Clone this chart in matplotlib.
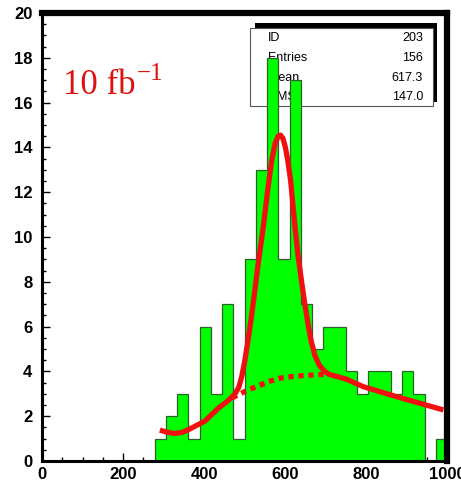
import numpy as np
import matplotlib
matplotlib.use("Agg")
import matplotlib.pyplot as plt
from matplotlib.patches import Rectangle

# Histogram: 36 bins from 0 to 1000, filled bins start at bin 10
bin_lo, bin_hi, n_bins = 0.0, 1000.0, 36
first_bin = 10
counts = [1, 2, 3, 1, 6, 3, 7, 1, 9, 13, 18, 9, 17, 7, 5, 6, 6, 4, 3, 4, 4, 3, 4, 3, 0, 1]

# Fit: signal + background (solid) and background alone under the peak (dotted)
fit_x = [291, 310, 326, 345, 365, 402, 435, 460, 476, 486, 493, 500, 508, 516, 524, 533, 546,
         556, 567, 576, 583, 589, 595, 601, 607, 614, 625, 632, 641, 649, 658, 664, 674, 684,
         695, 707, 752, 793, 876, 991]
fit_y = [1.38, 1.28, 1.23, 1.27, 1.43, 1.78, 2.35, 2.70, 2.98, 3.3, 3.75, 4.4, 5.3, 6.3, 7.4, 8.7, 10.4,
         11.9, 13.4, 14.2, 14.5, 14.55, 14.4, 14.0, 13.4, 12.5, 10.4, 9.2, 8.0, 7.0, 6.0, 5.4, 4.7, 4.3,
         4.05, 3.88, 3.65, 3.32, 2.87, 2.28]
bkg_x = [470, 489, 510, 534, 560, 588, 620, 650, 680, 707]
bkg_y = [2.82, 3.00, 3.18, 3.35, 3.55, 3.70, 3.78, 3.82, 3.85, 3.88]

x_ticks = [0, 200, 400, 600, 800, 1000]
y_ticks = [0, 2, 4, 6, 8, 10, 12, 14, 16, 18, 20]

stat_names = ["ID", "Entries", "Mean", "RMS"]
stat_values = ["203", "156", "617.3", "147.0"]

lumi_text = "10 fb"
lumi_sup = "\u22121"

W, H = 461, 486
fig = plt.figure(figsize=(W / 100, H / 100), dpi=100)
fig.patch.set_facecolor("white")


def px(x, y):
    """Figure fraction from pixel position measured from the top-left corner."""
    return x / W, 1 - y / H


ax = fig.add_axes([42 / W, 25 / H, (447 - 42) / W, (461 - 13) / H])
ax.set_xlim(bin_lo, bin_hi)
ax.set_ylim(0, 20)

edges = np.linspace(bin_lo, bin_hi, n_bins + 1)[first_bin:]
ax.stairs(counts, edges, fill=True, color="#00ff00", zorder=3)
ax.stairs(counts, edges, color="#2f5f2f", linewidth=0.9, zorder=3.1)

ax.plot(fit_x, fit_y, color="#f01010", linewidth=3.8, solid_capstyle="butt",
        solid_joinstyle="round", zorder=5)
ax.plot(bkg_x, bkg_y, color="#f01010", linewidth=3.8, linestyle=(0, (1.0, 0.9)),
        dash_capstyle="butt", zorder=5)

# Axis frame: thin left/bottom axis lines, heavy top/right border
for side in ("left", "bottom"):
    ax.spines[side].set_linewidth(2.2)
for side in ("top", "right"):
    ax.spines[side].set_linewidth(4.5)
for sp in ax.spines.values():
    sp.set_zorder(6)

ax.set_xticks(x_ticks)
ax.set_yticks(y_ticks)
ax.set_xticks(np.arange(0, 1001, 50), minor=True)
ax.set_yticks(np.arange(0, 20.01, 0.5), minor=True)
ax.tick_params(which="both", direction="in", top=False, right=False, zorder=6)
ax.tick_params(which="major", length=6, width=1.0)
ax.tick_params(which="minor", length=3, width=1.0)
ax.tick_params(axis="x", which="major", pad=4)
ax.tick_params(axis="y", which="major", pad=7)
for lab in ax.get_xticklabels() + ax.get_yticklabels():
    lab.set_fontfamily("Liberation Sans")
    lab.set_fontweight("bold")
    lab.set_fontsize(12)

# Statistics box with dark shadow, drawn beneath the histogram
shadow = Rectangle(px(255, 102), 182 / W, 79 / H, transform=fig.transFigure,
                   facecolor="black", edgecolor="none", zorder=1)
box = Rectangle(px(250, 106), 183 / W, 78 / H, transform=fig.transFigure,
                facecolor="white", edgecolor="#555555", linewidth=0.8, zorder=1.5)
ax.add_artist(shadow)
ax.add_artist(box)
row_y = [38, 58, 78, 97]
for name, val, yy in zip(stat_names, stat_values, row_y):
    ax.text(*px(268, yy), name, transform=fig.transFigure, ha="left", va="center",
            fontsize=9, family="Liberation Sans", color="black", zorder=2)
    ax.text(*px(423, yy), val, transform=fig.transFigure, ha="right", va="center",
            fontsize=9, family="Liberation Sans", color="black", zorder=2)

fig.text(*px(63, 94.3), lumi_text, ha="left", va="baseline", fontsize=25,
         family="Liberation Serif", color="#e01010", zorder=10)
fig.text(*px(137, 80), lumi_sup, ha="left", va="baseline", fontsize=18,
         family="Liberation Serif", color="#e01010", zorder=10)

fig.savefig("out.png", dpi=100, facecolor="white")
